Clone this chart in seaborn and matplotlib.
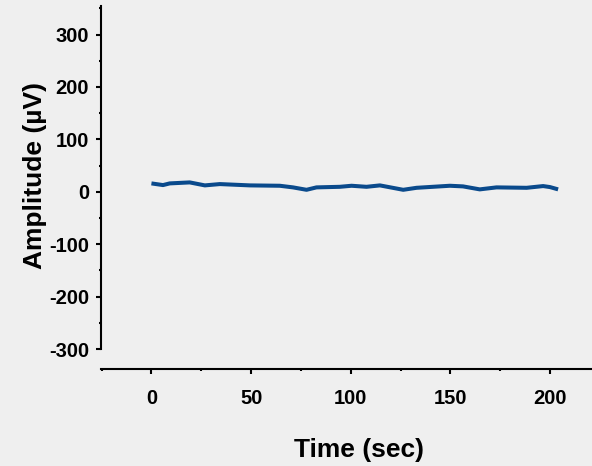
import numpy as np
import pandas as pd
import seaborn as sns
import matplotlib.pyplot as plt
from matplotlib.ticker import MultipleLocator

# values
time_sec = [0, 5.8, 9.2, 19.2, 26.8, 34.3, 49.4, 64.4, 71.0, 77.8, 82.8, 94.5,
            100.4, 107.9, 114.6, 126.3, 133.0, 149.7, 156.3, 164.7, 173.1,
            188.2, 196.5, 199.9, 204.0]
amplitude_uv = [16, 12.8, 16, 17.9, 12.2, 14.7, 12.2, 11.5, 8.4, 3.8, 8.4, 9.5,
                11.5, 9.5, 12.2, 3.8, 7.6, 11.5, 10.3, 4.6, 8.4,
                7.6, 10.9, 9.0, 4.6]

x_ticks = [0, 50, 100, 150, 200]
y_ticks = [-300, -200, -100, 0, 100, 200, 300]

df = pd.DataFrame({"Time (sec)": time_sec, "Amplitude (µV)": amplitude_uv})

sns.set_style("ticks")
plt.rcParams['font.family'] = ['Liberation Sans', 'DejaVu Sans']
plt.rcParams['axes.unicode_minus'] = False
plt.rcParams['text.color'] = 'black'
plt.rcParams['axes.labelcolor'] = 'black'
plt.rcParams['xtick.color'] = 'black'
plt.rcParams['ytick.color'] = 'black'
plt.rcParams['axes.edgecolor'] = 'black'
bg = '#efefef'

fig = plt.figure(figsize=(5.92, 4.66), dpi=100, facecolor=bg)
ax = fig.add_axes([0.1706, 0.2082, 0.8294, 0.7796])
ax.set_facecolor(bg)

sns.lineplot(data=df, x="Time (sec)", y="Amplitude (µV)", ax=ax,
             color='#0a4a8c', linewidth=2.9, solid_joinstyle='round',
             solid_capstyle='butt')

ax.set_xlim(-25.3, 221)
ax.set_ylim(-338, 355)
ax.set_xticks(x_ticks)
ax.set_yticks(y_ticks)
ax.xaxis.set_minor_locator(MultipleLocator(25))
ax.yaxis.set_minor_locator(MultipleLocator(50))

for side in ['top', 'right']:
    ax.spines[side].set_visible(False)
ax.spines['left'].set_bounds(-300, 355)
ax.spines['left'].set_linewidth(1.5)
ax.spines['bottom'].set_linewidth(1.5)

ax.tick_params(axis='both', which='major', length=3.5, width=1.5,
               labelsize=14.5, color='black', labelcolor='black')
ax.tick_params(axis='both', which='minor', length=1.5, width=1.5, color='black')
ax.tick_params(axis='x', which='major', pad=11)
ax.tick_params(axis='y', which='major', pad=5)
for lbl in ax.get_xticklabels() + ax.get_yticklabels():
    lbl.set_fontweight('bold')

ax.set_xlabel("Time (sec)", fontsize=19, fontweight='bold', color='black')
ax.set_ylabel("Amplitude (µV)", fontsize=19, fontweight='bold', color='black')
# labels sit a bit off-centre in the original
ax.xaxis.set_label_coords(0.5255, -0.2236)
ax.xaxis.label.set_va('center')
ax.yaxis.set_label_coords(-0.1344, 0.533)
ax.yaxis.label.set_va('center')

fig.savefig('out.png', dpi=100, facecolor=bg)
